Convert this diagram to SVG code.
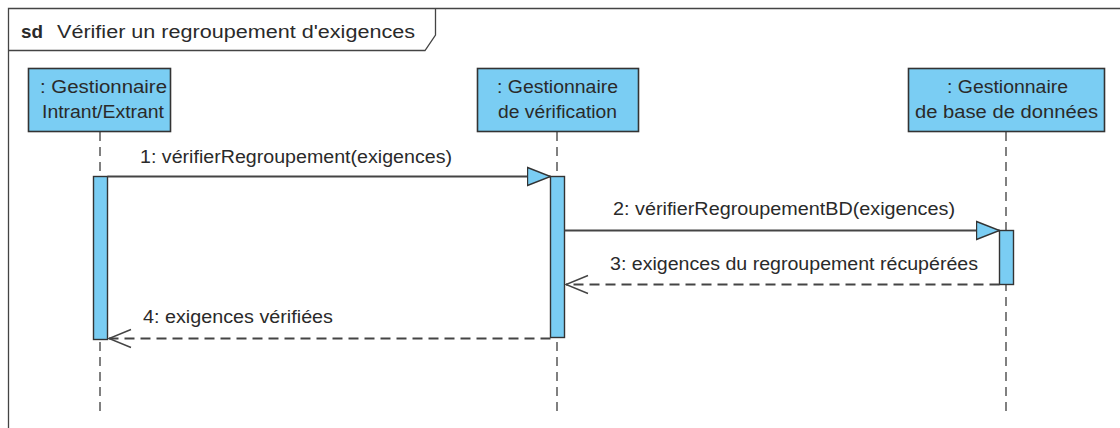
<svg xmlns="http://www.w3.org/2000/svg" width="1120" height="428" viewBox="0 0 1120 428">
<defs>
<style>
text{font-family:"Liberation Sans",Arial,sans-serif;font-size:17.5px;fill:#2a2a2a}
.box{fill:#7acdf3;stroke:#333;stroke-width:1.6}
.act{fill:#7acdf3;stroke:#333;stroke-width:1.4}
.life{stroke:#808080;stroke-width:2;stroke-dasharray:9,6;fill:none}
.msg{stroke:#444;stroke-width:1.8;fill:none}
.ret{stroke:#444;stroke-width:1.8;fill:none;stroke-dasharray:10,6}
.frame{stroke:#444;stroke-width:1.3;fill:none}
</style>
<marker id="tri" markerWidth="26" markerHeight="22" refX="24" refY="11" orient="auto" markerUnits="userSpaceOnUse">
<path d="M1,2 L24,11 L1,20 Z" fill="#7acdf3" stroke="#333" stroke-width="1.4"/>
</marker>
<marker id="open" markerWidth="26" markerHeight="24" refX="24" refY="12" orient="auto" markerUnits="userSpaceOnUse">
<path d="M2,3 L24,12 L2,21" stroke="#444" stroke-width="1.4" fill="none"/>
</marker>
</defs>
<rect width="1120" height="428" fill="#fff"/>
<g id="frame">
<path class="frame" d="M8.5,428 L8.5,8.5 L1120,8.5"/>
<path class="frame" d="M8.5,50.5 L425,50.5 L435.5,35 L435.5,8.5"/>
<text x="21" y="38" font-weight="bold" textLength="22" lengthAdjust="spacingAndGlyphs">sd</text>
<text x="57" y="38" textLength="358" lengthAdjust="spacingAndGlyphs">Vérifier un regroupement d'exigences</text>
</g>
<g id="lifelines">
<line class="life" x1="100" y1="132" x2="100" y2="412"/>
<line class="life" x1="557" y1="132" x2="557" y2="412"/>
<line class="life" x1="1006" y1="132" x2="1006" y2="412"/>
</g>
<g id="io">
<rect class="box" x="28.5" y="68.5" width="142" height="63"/>
<text x="40" y="93" textLength="127" lengthAdjust="spacingAndGlyphs">: Gestionnaire</text>
<text x="42" y="118" textLength="122" lengthAdjust="spacingAndGlyphs">Intrant/Extrant</text>
<rect class="act" x="93.5" y="176.5" width="14" height="163"/>
</g>
<g id="verif">
<rect class="box" x="477.5" y="68.5" width="161" height="63"/>
<text x="497" y="93" textLength="121" lengthAdjust="spacingAndGlyphs">: Gestionnaire</text>
<text x="498" y="118" textLength="119" lengthAdjust="spacingAndGlyphs">de vérification</text>
<rect class="act" x="550.5" y="176.5" width="14" height="161"/>
</g>
<g id="bd">
<rect class="box" x="908.5" y="68.5" width="196" height="63"/>
<text x="947" y="93" textLength="121" lengthAdjust="spacingAndGlyphs">: Gestionnaire</text>
<text x="915" y="118" textLength="183" lengthAdjust="spacingAndGlyphs">de base de données</text>
<rect class="act" x="999.5" y="230.5" width="14" height="54"/>
</g>
<g id="connectors">
<line class="msg" x1="107.5" y1="176.5" x2="550.5" y2="176.5" marker-end="url(#tri)"/>
<text x="140" y="163" textLength="312" lengthAdjust="spacingAndGlyphs">1: vérifierRegroupement(exigences)</text>
<line class="msg" x1="564.5" y1="230.5" x2="999.5" y2="230.5" marker-end="url(#tri)"/>
<text x="613" y="215" textLength="342" lengthAdjust="spacingAndGlyphs">2: vérifierRegroupementBD(exigences)</text>
<line class="ret" x1="999.5" y1="284.5" x2="566" y2="284.5" marker-end="url(#open)"/>
<text x="610" y="270" textLength="368" lengthAdjust="spacingAndGlyphs">3: exigences du regroupement récupérées</text>
<line class="ret" x1="550.5" y1="338.5" x2="109" y2="338.5" marker-end="url(#open)"/>
<text x="143" y="323" textLength="190" lengthAdjust="spacingAndGlyphs">4: exigences vérifiées</text>
</g>
</svg>
